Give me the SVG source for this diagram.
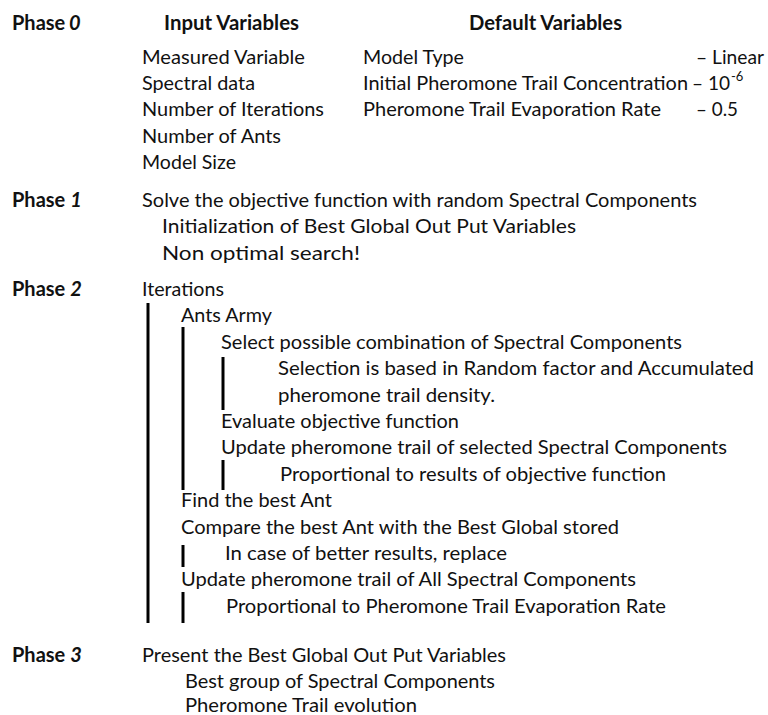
<svg xmlns="http://www.w3.org/2000/svg" width="768" height="715" viewBox="0 0 768 715">
<style>
text{font-family:"Lato","Liberation Sans",sans-serif;font-size:20px;fill:#111;}
.b{font-weight:bold;}
.bi{font-weight:bold;font-style:italic;}
.sup{font-size:13px;}
.bar{stroke:#000;stroke-width:3;fill:none;}
</style>
<rect width="768" height="715" fill="#fff"/>
<g id="phase0">
<text class="b" x="12" y="30">Phase</text>
<text class="bi" x="69" y="30">0</text>
<text class="b" x="164" y="30" textLength="135" lengthAdjust="spacingAndGlyphs">Input Variables</text>
<text class="b" x="469" y="30" textLength="153" lengthAdjust="spacingAndGlyphs">Default Variables</text>
<text x="142" y="64" textLength="163" lengthAdjust="spacingAndGlyphs">Measured Variable</text>
<text x="142" y="90" textLength="113" lengthAdjust="spacingAndGlyphs">Spectral data</text>
<text x="142" y="116" textLength="182" lengthAdjust="spacingAndGlyphs">Number of Iterations</text>
<text x="142" y="143" textLength="139" lengthAdjust="spacingAndGlyphs">Number of Ants</text>
<text x="142" y="169" textLength="94" lengthAdjust="spacingAndGlyphs">Model Size</text>
<text x="363" y="64" textLength="101" lengthAdjust="spacingAndGlyphs">Model Type</text>
<text x="696" y="64" textLength="68" lengthAdjust="spacingAndGlyphs">– Linear</text>
<text x="363" y="90" textLength="325" lengthAdjust="spacingAndGlyphs">Initial Pheromone Trail Concentration</text>
<text x="692" y="90" textLength="38" lengthAdjust="spacingAndGlyphs">– 10</text>
<text class="sup" x="731" y="81">-6</text>
<text x="696" y="116" textLength="42" lengthAdjust="spacingAndGlyphs">– 0.5</text>
<text x="363" y="116" textLength="298" lengthAdjust="spacingAndGlyphs">Pheromone Trail Evaporation Rate</text>
</g>
<g id="phase1">
<text class="b" x="12" y="207">Phase <tspan class="bi">1</tspan></text>
<text x="142" y="207" textLength="555" lengthAdjust="spacingAndGlyphs">Solve the objective function with random Spectral Components</text>
<text x="162" y="233" textLength="414" lengthAdjust="spacingAndGlyphs">Initialization of Best Global Out Put Variables</text>
<text x="162" y="260" textLength="198" lengthAdjust="spacingAndGlyphs">Non optimal search!</text>
</g>
<g id="phase2">
<text class="b" x="12" y="296">Phase <tspan class="bi">2</tspan></text>
<text x="142" y="296" textLength="82" lengthAdjust="spacingAndGlyphs">Iterations</text>
<text x="181" y="322" textLength="91" lengthAdjust="spacingAndGlyphs">Ants Army</text>
<text x="221" y="349" textLength="461" lengthAdjust="spacingAndGlyphs">Select possible combination of Spectral Components</text>
<text x="278" y="375" textLength="476" lengthAdjust="spacingAndGlyphs">Selection is based in Random factor and Accumulated</text>
<text x="278" y="402" textLength="217" lengthAdjust="spacingAndGlyphs">pheromone trail density.</text>
<text x="221" y="428" textLength="238" lengthAdjust="spacingAndGlyphs">Evaluate objective function</text>
<text x="221" y="454" textLength="506" lengthAdjust="spacingAndGlyphs">Update pheromone trail of selected Spectral Components</text>
<text x="280" y="481" textLength="386" lengthAdjust="spacingAndGlyphs">Proportional to results of objective function</text>
<text x="181" y="507" textLength="151" lengthAdjust="spacingAndGlyphs">Find the best Ant</text>
<text x="181" y="534" textLength="438" lengthAdjust="spacingAndGlyphs">Compare the best Ant with the Best Global stored</text>
<text x="225" y="560" textLength="282" lengthAdjust="spacingAndGlyphs">In case of better results, replace</text>
<text x="181" y="586" textLength="455" lengthAdjust="spacingAndGlyphs">Update pheromone trail of All Spectral Components</text>
<text x="226" y="613" textLength="440" lengthAdjust="spacingAndGlyphs">Proportional to Pheromone Trail Evaporation Rate</text>
</g>
<g id="phase3">
<text class="b" x="12" y="662">Phase <tspan class="bi">3</tspan></text>
<text x="142" y="662" textLength="364" lengthAdjust="spacingAndGlyphs">Present the Best Global Out Put Variables</text>
<text x="185" y="688" textLength="310" lengthAdjust="spacingAndGlyphs">Best group of Spectral Components</text>
<text x="185" y="712" textLength="232" lengthAdjust="spacingAndGlyphs">Pheromone Trail evolution</text>
</g>
<g id="connectors">
<line class="bar" x1="148" y1="303" x2="148" y2="623"/>
<line class="bar" x1="183" y1="327" x2="183" y2="490"/>
<line class="bar" x1="223" y1="357" x2="223" y2="410"/>
<line class="bar" x1="223" y1="460" x2="223" y2="490"/>
<line class="bar" x1="183" y1="545" x2="183" y2="567"/>
<line class="bar" x1="183" y1="592" x2="183" y2="623"/>
</g>
</svg>
